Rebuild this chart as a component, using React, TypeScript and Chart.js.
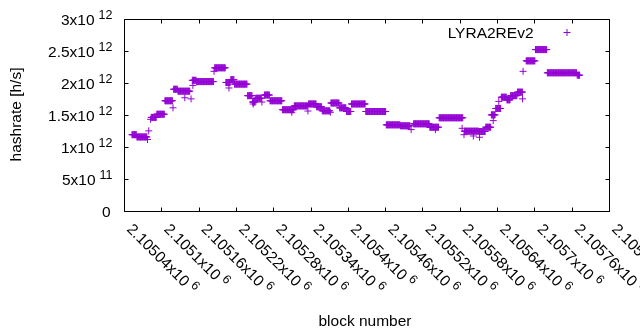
import React, { useEffect, useRef } from "react";
import { Chart, registerables } from "chart.js";

Chart.register(...registerables);

// ---- data (block number runs with constant hashrate, value in 1e12 h/s) ----
const runStart = [
  2105052, 2105060, 2105083, 2105092, 2105105, 2105119, 2105126, 2105149, 2105156, 2105185,
  2105203, 2105211, 2105217, 2105238, 2105246, 2105251, 2105265, 2105274, 2105294, 2105313,
  2105336, 2105349, 2105358, 2105372, 2105386, 2105397, 2105405, 2105428, 2105461, 2105484,
  2105505, 2105531, 2105546, 2105587, 2105610, 2105621, 2105630, 2105637, 2105646, 2105655,
  2105661, 2105672, 2105686, 2105701, 2105720, 2105768,
];
const runEnd = [
  2105059, 2105076, 2105091, 2105104, 2105117, 2105125, 2105145, 2105155, 2105183, 2105202,
  2105210, 2105216, 2105237, 2105245, 2105250, 2105260, 2105273, 2105293, 2105312, 2105334,
  2105348, 2105357, 2105370, 2105385, 2105396, 2105404, 2105427, 2105460, 2105483, 2105499,
  2105530, 2105545, 2105584, 2105609, 2105620, 2105629, 2105636, 2105645, 2105654, 2105660,
  2105671, 2105680, 2105700, 2105719, 2105767, 2105772,
];
const runValue = [
  1.2, 1.165, 1.47, 1.52, 1.73, 1.91, 1.88, 2.05, 2.03, 2.245,
  2.016, 2.06, 1.99, 1.81, 1.71, 1.77, 1.82, 1.73, 1.59, 1.65,
  1.68, 1.636, 1.573, 1.695, 1.62, 1.5625, 1.68, 1.5625, 1.354, 1.339,
  1.37, 1.317, 1.464, 1.255, 1.25, 1.317, 1.51, 1.61, 1.786, 1.745,
  1.81, 1.865, 2.354, 2.53, 2.167, 2.13,
];
// isolated blocks
const loneBlock = [
  2105077, 2105079, 2105082, 2105118, 2105137, 2105147, 2105150, 2105184, 2105208, 2105247,
  2105261, 2105309, 2105335, 2105371, 2105501, 2105540, 2105583, 2105586, 2105601, 2105611,
  2105633, 2105642, 2105680, 2105681,
];
const loneValue = [
  1.125, 1.26, 1.44, 1.62, 1.777, 1.76, 1.97, 2.19, 1.93, 1.68,
  1.71, 1.55, 1.57, 1.55, 1.28, 1.28, 1.3, 1.2, 1.18, 1.16,
  1.42, 1.72, 1.76, 2.19,
];

const xTickValues = [
  2105040, 2105100, 2105160, 2105220, 2105280, 2105340, 2105400,
  2105460, 2105520, 2105580, 2105640, 2105700, 2105760, 2105820,
];
const xTickBase = [
  "2.10504x10", "2.1051x10", "2.10516x10", "2.10522x10", "2.10528x10", "2.10534x10", "2.1054x10",
  "2.10546x10", "2.10552x10", "2.10558x10", "2.10564x10", "2.1057x10", "2.10576x10", "2.10582x10",
];
const xTickExp = "6";
const yTickValues = [0, 5e11, 1e12, 1.5e12, 2e12, 2.5e12, 3e12];
const yTickBase = ["0", "5x10", "1x10", "1.5x10", "2x10", "2.5x10", "3x10"];
const yTickExp = ["", "11", "12", "12", "12", "12", "12"];

const seriesName = "LYRA2REv2";
const xTitle = "block number";
const yTitle = "hashrate [h/s]";

const COLOR = "#9400D3";
const FONT_FAMILY = "'Liberation Sans', Arial, sans-serif";
const FS = 15.5;
const SUP = 12.5;

function half(v: number) {
  return Math.round(v - 0.5) + 0.5;
}

const gnuplotPlugin = {
  id: "gnuplotLook",
  beforeDatasetsDraw(chart: any) {
    const { ctx, chartArea: a, scales } = chart;
    ctx.save();
    ctx.strokeStyle = "#000";
    ctx.lineWidth = 1;
    ctx.beginPath();
    ctx.rect(a.left, a.top, a.right - a.left, a.bottom - a.top);
    const tl = 4;
    xTickValues.forEach((v) => {
      const x = half(scales.x.getPixelForValue(v));
      ctx.moveTo(x, a.bottom);
      ctx.lineTo(x, a.bottom - tl);
      ctx.moveTo(x, a.top);
      ctx.lineTo(x, a.top + tl);
    });
    yTickValues.forEach((v) => {
      const y = half(scales.y.getPixelForValue(v));
      ctx.moveTo(a.left, y);
      ctx.lineTo(a.left + tl, y);
      ctx.moveTo(a.right, y);
      ctx.lineTo(a.right - tl, y);
    });
    ctx.stroke();
    ctx.restore();
  },
  afterDraw(chart: any) {
    const { ctx, chartArea: a, scales } = chart;
    ctx.save();
    ctx.fillStyle = "#000";
    const base = `${FS}px ${FONT_FAMILY}`;
    const sup = `${SUP}px ${FONT_FAMILY}`;
    const gap = 4;
    const raise = 6;

    // y tick labels
    ctx.textAlign = "left";
    ctx.textBaseline = "alphabetic";
    yTickValues.forEach((v, i) => {
      const y = scales.y.getPixelForValue(v) + 5;
      ctx.font = base;
      const wb = ctx.measureText(yTickBase[i]).width;
      let we = 0;
      if (yTickExp[i]) {
        ctx.font = sup;
        we = ctx.measureText(yTickExp[i]).width + gap;
      }
      const right = yTickExp[i] ? 112.5 : 110.5;
      const x0 = right - wb - we;
      ctx.font = base;
      ctx.fillText(yTickBase[i], x0, y);
      if (yTickExp[i]) {
        ctx.font = sup;
        ctx.fillText(yTickExp[i], x0 + wb + gap, y - raise);
      }
    });

    // x tick labels (rotated -45 deg in gnuplot terms)
    xTickValues.forEach((v, i) => {
      const x = scales.x.getPixelForValue(v);
      ctx.save();
      ctx.translate(x + 1.5, a.bottom + 18.5);
      ctx.rotate(Math.PI / 4);
      ctx.font = base;
      ctx.fillText(xTickBase[i], 0, 0);
      const wb = ctx.measureText(xTickBase[i]).width;
      ctx.font = sup;
      ctx.fillText(xTickExp, wb + gap, -raise);
      ctx.restore();
    });

    // axis titles
    ctx.font = base;
    ctx.textAlign = "center";
    ctx.textBaseline = "alphabetic";
    ctx.fillText(xTitle, (a.left + a.right) / 2 - 2, 325.5);
    ctx.save();
    ctx.translate(17, (a.top + a.bottom) / 2 - 1);
    ctx.rotate(-Math.PI / 2);
    ctx.textBaseline = "middle";
    ctx.fillText(yTitle, 0, 0);
    ctx.restore();

    // legend
    ctx.textAlign = "right";
    ctx.textBaseline = "alphabetic";
    ctx.fillText(seriesName, 533.5, 37.5);
    ctx.strokeStyle = COLOR;
    ctx.lineWidth = 1;
    ctx.beginPath();
    ctx.moveTo(563.5, 32.5);
    ctx.lineTo(570.5, 32.5);
    ctx.moveTo(567, 29);
    ctx.lineTo(567, 36);
    ctx.stroke();
    ctx.restore();
  },
};

export default function App() {
  const ref = useRef<HTMLCanvasElement | null>(null);

  useEffect(() => {
    document.body.style.margin = "0";
    const canvas = ref.current;
    if (!canvas) return;
    const points: { x: number; y: number }[] = [];
    runStart.forEach((s, i) => {
      for (let b = s; b <= runEnd[i]; b++) points.push({ x: b, y: runValue[i] * 1e12 });
    });
    loneBlock.forEach((b, i) => points.push({ x: b, y: loneValue[i] * 1e12 }));

    const chart = new Chart(canvas, {
      type: "scatter",
      data: {
        datasets: [
          {
            label: seriesName,
            data: points,
            pointStyle: "cross",
            pointRadius: 3.5,
            pointHoverRadius: 3.5,
            pointBorderWidth: 1,
            pointBorderColor: COLOR,
            pointBackgroundColor: COLOR,
            borderColor: COLOR,
            backgroundColor: COLOR,
          },
        ],
      },
      options: {
        responsive: false,
        animation: false,
        events: [],
        devicePixelRatio: 1,
        layout: { padding: { left: 124.5, right: 30.5, top: 19.5, bottom: 118.5 } },
        plugins: { legend: { display: false }, tooltip: { enabled: false } },
        scales: {
          x: { type: "linear", min: 2105040, max: 2105820, display: false },
          y: { type: "linear", min: 0, max: 3e12, display: false },
        },
      },
      plugins: [gnuplotPlugin],
    });
    return () => chart.destroy();
  }, []);

  return <canvas ref={ref} width={640} height={330} style={{ display: "block" }} />;
}
